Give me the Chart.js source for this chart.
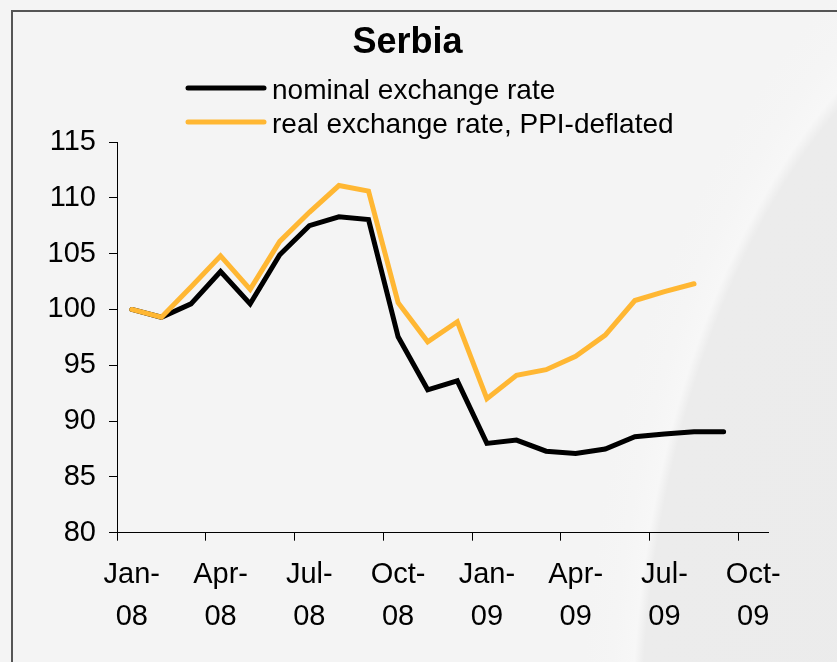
<!DOCTYPE html>
<html>
<head>
<meta charset="utf-8">
<script src="https://cdn.jsdelivr.net/npm/chart.js@4.4.1/dist/chart.umd.min.js"></script>
<style>
  html, body { margin: 0; padding: 0; background: #f4f4f4; }
  #wrap {
    position: relative; width: 837px; height: 662px; overflow: hidden;
    background:
      radial-gradient(471px 799px at 1100px 750px, #ebebeb 0%, #ececec 97.5%, #f7f7f7 99.5%, #f5f5f5 104%, #f4f4f4 110%),
      #f4f4f4;
  }
  #frame {
    position: absolute; left: 11px; top: 10px; width: 900px; height: 700px;
    border-left: 2px solid #555555; border-top: 2px solid #555555;
  }
  #c { position: absolute; left: 0; top: 0; }
</style>
</head>
<body>
<div id="wrap">
  <div id="frame"></div>
  <canvas id="c" width="837" height="662"></canvas>
</div>
<script>
// ---- data ----
const chartTitle = 'Serbia';
const months = ['Jan-08','Feb-08','Mar-08','Apr-08','May-08','Jun-08','Jul-08','Aug-08','Sep-08','Oct-08','Nov-08','Dec-08',
                'Jan-09','Feb-09','Mar-09','Apr-09','May-09','Jun-09','Jul-09','Aug-09','Sep-09','Oct-09'];
const seriesNames = ['nominal exchange rate', 'real exchange rate, PPI-deflated'];
const nominalRate = [100.0, 99.3, 100.5, 103.4, 100.5, 104.9, 107.5, 108.3, 108.05, 97.55, 92.8, 93.6,
                     88.0, 88.3, 87.3, 87.1, 87.5, 88.6, 88.85, 89.05, 89.05];
const realRatePPI = [100.0, 99.3, 102.0, 104.8, 101.8, 106.1, 108.7, 111.1, 110.6, 100.6, 97.1, 98.9,
                     92.0, 94.1, 94.6, 95.8, 97.7, 100.8, 101.6, 102.3];
const yTicks = { min: 80, max: 115, step: 5 };
const labelEvery = 3;

const FONT = "'Liberation Sans', Arial, sans-serif";
const colors = ['#000000', '#FFB733'];

const legendPlugin = {
  id: 'customLegend',
  afterDraw(chart) {
    const ctx = chart.ctx;
    ctx.save();
    chart.data.datasets.forEach((ds, i) => {
      const y = 88 + i * 34;
      ctx.strokeStyle = ds.borderColor;
      ctx.lineWidth = 5;
      ctx.lineCap = 'round';
      ctx.beginPath();
      ctx.moveTo(188, y);
      ctx.lineTo(264, y);
      ctx.stroke();
      ctx.fillStyle = '#000';
      ctx.font = '28px ' + FONT;
      ctx.textBaseline = 'alphabetic';
      ctx.textAlign = 'left';
      ctx.fillText(ds.label, 272, y + 11);
    });
    ctx.restore();
  }
};

new Chart(document.getElementById('c'), {
  type: 'line',
  data: {
    labels: months,
    datasets: [
      { label: seriesNames[0], data: nominalRate, borderColor: colors[0], backgroundColor: colors[0],
        borderWidth: 5, pointRadius: 0, tension: 0, fill: false, borderCapStyle: 'round', order: 1 },
      { label: seriesNames[1], data: realRatePPI, borderColor: colors[1], backgroundColor: colors[1],
        borderWidth: 5, pointRadius: 0, tension: 0, fill: false, borderCapStyle: 'round', order: 0 }
    ]
  },
  options: {
    responsive: false,
    animation: false,
    devicePixelRatio: 1,
    layout: { padding: { left: 47, right: 69, top: 0, bottom: 24.3 } },
    plugins: {
      legend: { display: false },
      tooltip: { enabled: false },
      title: {
        display: true, text: chartTitle, color: '#000',
        font: { family: FONT, size: 36, weight: 'bold', lineHeight: 1.2 },
        padding: { top: 21.9, bottom: 76.9 }
      }
    },
    scales: {
      x: {
        type: 'category',
        offset: true,
        afterFit: s => { s.height = 105; },
        border: { display: true, color: '#000', width: 1 },
        grid: {
          offset: true, drawOnChartArea: false, drawTicks: true, tickLength: 8, tickWidth: 1,
          color: '#000',
          tickColor: c => (c.index % labelEvery === 0 ? '#000' : 'rgba(0,0,0,0)')
        },
        ticks: {
          autoSkip: false, maxRotation: 0, minRotation: 0, padding: 13.5, color: '#000',
          font: { family: FONT, size: 29, lineHeight: 1.45 },
          callback: function (v, i) {
            if (i % labelEvery !== 0) return '';
            const s = this.getLabelForValue(v);
            const p = s.indexOf('-');
            return [s.slice(0, p + 1), s.slice(p + 1)];
          }
        }
      },
      y: {
        min: yTicks.min, max: yTicks.max,
        afterFit: s => { s.width = 70; },
        border: { display: true, color: '#000', width: 1 },
        grid: { drawOnChartArea: false, drawTicks: true, tickLength: 8, color: '#000' },
        ticks: {
          stepSize: yTicks.step, padding: 13, color: '#000',
          font: { family: FONT, size: 29 }
        }
      }
    }
  },
  plugins: [legendPlugin]
});
</script>
</body>
</html>
